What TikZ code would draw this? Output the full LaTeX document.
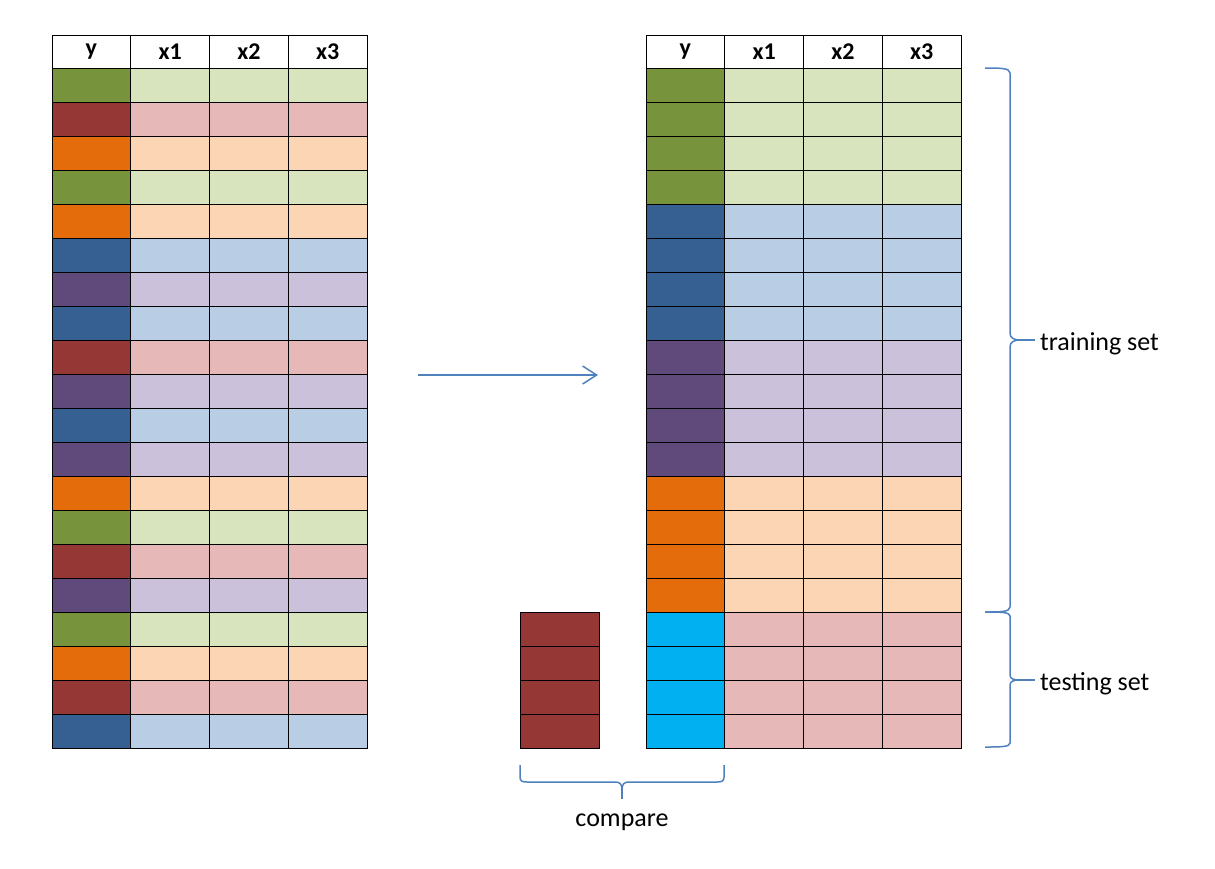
\documentclass[tikz,border=0pt]{standalone}
\usepackage{fontspec}
\setmainfont{Carlito}
\usetikzlibrary{arrows.meta}
\definecolor{cG}{HTML}{77933C}\definecolor{pG}{HTML}{D7E4BD}
\definecolor{cR}{HTML}{953735}\definecolor{pR}{HTML}{E6B9B8}
\definecolor{cO}{HTML}{E46C0A}\definecolor{pO}{HTML}{FCD5B5}
\definecolor{cB}{HTML}{376092}\definecolor{pB}{HTML}{B9CDE5}
\definecolor{cP}{HTML}{604A7B}\definecolor{pP}{HTML}{CCC1DA}
\definecolor{cC}{HTML}{00B0F0}
\definecolor{brc}{HTML}{4F81BD}
\begin{document}
\begin{tikzpicture}[x=1pt,y=-1pt,
  cell/.style={draw=black,line width=1pt,minimum width=78.75pt,minimum height=34pt,inner sep=0pt,outer sep=0pt},
  head/.style={cell,minimum height=33pt,fill=white,font=\fontsize{24}{26}\selectfont\bfseries},
  lbl/.style={font=\fontsize{26}{28}\selectfont,inner sep=0pt},
  blue line/.style={draw=brc,line width=1.5pt}]
\useasboundingbox (0,0) rectangle (1215,868);
% headers
\foreach \t [count=\j from 0] in {y,x1,x2,x3}{
  \node[head] (LH-\j) at (52+78.75*\j+39.375,51.5) {\t};
  \node[head] (RH-\j) at (646+78.75*\j+39.375,51.5) {\t};
}
% left table
\foreach \c [count=\i] in {G,R,O,G,O,B,P,B,R,P,B,P,O,G,R,P,G,O,R,B}{
  \node[cell,fill=c\c] (L-\i-0) at (52+39.375,68+34*\i-17) {};
  \foreach \j in {1,2,3}{
    \node[cell,fill=p\c] (L-\i-\j) at (52+78.75*\j+39.375,68+34*\i-17) {};
  }
}
% right table
\foreach \c/\d [count=\i] in {cG/pG,cG/pG,cG/pG,cG/pG,cB/pB,cB/pB,cB/pB,cB/pB,cP/pP,cP/pP,cP/pP,cP/pP,cO/pO,cO/pO,cO/pO,cO/pO,cC/pR,cC/pR,cC/pR,cC/pR}{
  \node[cell,fill=\c] (R-\i-0) at (646+39.375,68+34*\i-17) {};
  \foreach \j in {1,2,3}{
    \node[cell,fill=\d] (R-\i-\j) at (646+78.75*\j+39.375,68+34*\i-17) {};
  }
}
% compare column
\foreach \i in {1,2,3,4}{
  \node[cell,minimum width=79pt,fill=cR] (C-\i) at (559.5,612+34*\i-17) {};
}
% arrow
\coordinate (a1) at (418,375);
\coordinate (a2) at (598,375);
\draw[blue line,-{Straight Barb[length=14pt,width=18pt,line width=1.5pt]}] (a1) -- (a2);
% training brace
\draw[blue line] (985,68) .. controls (1000,68) and (1010,68) .. (1010,73)
  -- (1010,333) .. controls (1010,338) and (1014,340) .. (1020,340)
  .. controls (1014,340) and (1010,342) .. (1010,347)
  -- (1010,607) .. controls (1010,612) and (1000,612) .. (985,612);
\draw[blue line] (1020,340) -- (1035,340);
% testing brace
\draw[blue line] (985,612) .. controls (1000,612) and (1010,612) .. (1010,616)
  -- (1010,675) .. controls (1010,679) and (1014,680) .. (1020,680)
  .. controls (1014,680) and (1010,681) .. (1010,685)
  -- (1010,743) .. controls (1010,747) and (1000,747) .. (985,747);
\draw[blue line] (1020,680) -- (1035,680);
% compare brace
\draw[blue line] (520,765) -- (520,777) .. controls (520,781) and (522,782) .. (527,782)
  -- (615,782) .. controls (620,782) and (622,784) .. (622,790)
  .. controls (622,784) and (624,782) .. (629,782)
  -- (717,782) .. controls (722,782) and (724,781) .. (724,777) -- (724,765);
\draw[blue line] (622,790) -- (622,799);
% labels
\node[lbl,anchor=base west] (train) at (1040,350) {training set};
\node[lbl,anchor=base west] (test) at (1040,690) {testing set};
\node[lbl,anchor=base] (cmp) at (622,826) {compare};
\end{tikzpicture}
\end{document}
